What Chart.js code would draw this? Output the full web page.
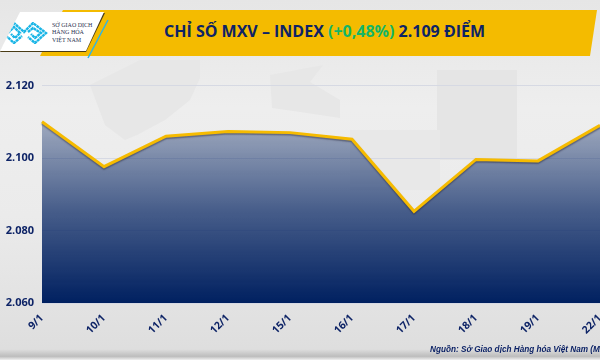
<!DOCTYPE html>
<html lang="vi">
<head>
<meta charset="utf-8">
<title>Chỉ số MXV-Index</title>
<script src="https://cdn.jsdelivr.net/npm/chart.js@4"></script>
<style>
    html, body { margin: 0; padding: 0; }
    body { position: relative; width: 600px; height: 360px; overflow: hidden; font-family: "Open Sans", sans-serif;
        background: linear-gradient(180deg, #e6e6e6 0%, #eeeeee 30%, #ebebeb 60%, #dedede 97%, #bdbdbd 99%, #f0f0f0 100%); }
    #map, #chart, .banner, .logo, .logoBack, .slash, .source, .title { position: absolute; }
    #map { left: 0; top: 0; }
    #chart { left: 0; top: 0; }
    .banner { left: 40px; top: 10px; width: 557px; height: 46px; background: #f4bb00;
        clip-path: polygon(23px 0, 100% 0, 550px 100%, 0 100%); }
    .logoBack { left: 0; top: 13px; width: 105px; height: 39px; background: #4a3c16; clip-path: polygon(22px 0, 100% 0, 86px 100%, 0 100%); }
    .logo { left: 0; top: 12px; width: 104px; height: 39px; background: #fff; clip-path: polygon(20px 0, 100% 0, 86px 100%, 0 100%); }
    .logo div { position: absolute; left: 52px; top: 10px; font: 7px/7.4px "Liberation Serif", serif; color: #2b3350; white-space: nowrap;
        transform: scaleX(0.86); transform-origin: left top; }
    .logo svg { position: absolute; left: 2px; top: 10px; }
    .slash { left: 86px; top: 19px; }
    .title { left: 164px; top: 19px; font-size: 16px; line-height: 24px; font-weight: 700; color: #0d2366; white-space: nowrap; }
    .title span { color: #14b566; }
    .source { left: 430px; top: 345px; font: italic bold 8.2px "Liberation Sans", sans-serif; color: #0d2366; white-space: nowrap; }
</style>
</head>
<body>
<svg id="map" width="600" height="360" fill="#e7e7e7">
    <path d="M90 85 L140 60 L200 60 L200 78 L190 100 L165 120 L137 135 L125 140 L105 125 Z"/>
    <path d="M270 75 L323 65 L310 82 L340 100 L340 118 L300 112 L272 108 Z"/>
    <rect x="437" y="70" width="80" height="90" fill="#e5e5e5"/>
    <rect x="350" y="130" width="90" height="60" fill="#e8e8e8"/>
</svg>
<div class="banner"></div>
<div class="logoBack"></div>
<div class="logo">
    <svg width="46" height="22" viewBox="0 0 46 22" fill="none" stroke="#19b5e6" stroke-width="2.4" stroke-dasharray="3 0.5">
        <path d="M1 11 L12 1 L22 10 L31 1 L44 11 L33 21 L26 15"/>
        <path d="M1 11 L12 21 L20 14"/>
        <path d="M6 11 L12 5 L18 11 L13 16 L9 12"/>
        <path d="M26 10 L31 6 L39 11 L33 16 L29 12"/>
    </svg>
    <div>SỞ GIAO DỊCH<br>HÀNG HÓA<br>VIỆT NAM</div>
</div>
<svg class="slash" width="24" height="40"><path d="M22 1 L2 39" stroke="#2fb4e6" stroke-width="1.5"/></svg>
<div class="title">CHỈ SỐ MXV – INDEX <span>(+0,48%)</span> 2.109 ĐIỂM</div>
<canvas id="chart" width="600" height="360"></canvas>
<div class="source">Nguồn: Sở Giao dịch Hàng hóa Việt Nam (MXV)</div>

<script>
// Data
const dates = ['9/1', '10/1', '11/1', '12/1', '15/1', '16/1', '17/1', '18/1', '19/1', '22/1'];
const indexValues = [2110, 2097.6, 2106, 2107.3, 2107, 2105.2, 2085.3, 2099.6, 2099.2, 2109];
const yTicks = [2060, 2080, 2100, 2120];

const navy = '#0d2366';

// Line shadow, set after the filler has drawn so only the line gets it
const lineShadow = {
    id: 'lineShadow',
    beforeDatasetDraw(chart) {
        chart.ctx.save();
        chart.ctx.shadowColor = 'rgba(30, 30, 50, 0.45)';
        chart.ctx.shadowBlur = 1.5;
        chart.ctx.shadowOffsetY = 1.5;
    },
    afterDatasetDraw(chart) {
        chart.ctx.restore();
    }
};

const ctx = document.getElementById('chart').getContext('2d');
new Chart(ctx, {
    type: 'line',
    data: {
        labels: dates,
        datasets: [{
            label: 'MXV-Index',
            data: indexValues,
            borderColor: '#f6bb00',
            borderWidth: 3,
            pointRadius: 0,
            tension: 0,
            fill: 'start',
            backgroundColor: function(context) {
                const area = context.chart.chartArea;
                if (!area) return 'rgba(0, 32, 96, 0.4)';
                const gradient = context.chart.ctx.createLinearGradient(0, 120, 0, area.bottom);
                gradient.addColorStop(0, 'rgba(0, 32, 96, 0.32)');
                gradient.addColorStop(0.5, 'rgba(0, 32, 96, 0.70)');
                gradient.addColorStop(0.8, 'rgba(0, 32, 96, 0.88)');
                gradient.addColorStop(1, 'rgba(0, 32, 96, 1)');
                return gradient;
            }
        }]
    },
    options: {
        responsive: false,
        animation: false,
        layout: { padding: { top: 85.5, right: 0, left: 0, bottom: 0 } },
        plugins: {
            legend: { display: false },
            title: { display: false },
            tooltip: { enabled: false }
        },
        scales: {
            x: {
                offset: false,
                grid: { display: false },
                border: { display: false },
                ticks: {
                    color: navy,
                    font: { family: 'Open Sans', size: 10.5, weight: 'bold' },
                    autoSkip: false,
                    minRotation: 45,
                    maxRotation: 45,
                    padding: 1
                },
                afterFit(scale) {
                    scale.height = 57;
                    scale.paddingLeft = 0;
                    scale.paddingRight = 0;
                }
            },
            y: {
                min: 2060,
                max: 2120,
                afterBuildTicks(scale) {
                    scale.ticks = yTicks.map(v => ({ value: v }));
                },
                grid: { color: '#d6d9e3', drawTicks: false },
                border: { display: false },
                ticks: {
                    color: navy,
                    font: { family: 'Open Sans', size: 11, weight: 'bold' },
                    padding: 8,
                    callback: function(value) {
                        return value.toLocaleString('de-DE');
                    }
                },
                afterFit(scale) {
                    scale.width = 42;
                    scale.paddingTop = 0;
                    scale.paddingBottom = 0;
                }
            }
        }
    },
    plugins: [lineShadow]
});
</script>
</body>
</html>
